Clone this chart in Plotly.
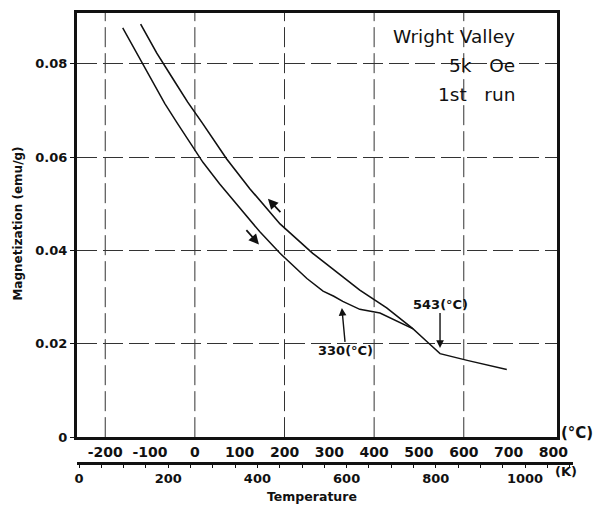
import plotly.graph_objects as go

# ---- data ----
T_HEAT = [-161, -128, -94, -67, -40, 18, 55, 94, 145, 190, 250, 286, 310, 330, 368, 413, 450, 487, 520, 547, 610, 674, 696]
M_HEAT = [0.0877, 0.0819, 0.0760, 0.0715, 0.0674, 0.0589, 0.0543, 0.0498, 0.0440, 0.0394, 0.0340, 0.0313, 0.0302,
          0.0291, 0.0274, 0.0266, 0.0249, 0.0232, 0.0203, 0.0179, 0.0164, 0.0149, 0.0145]

T_COOL = [-121, -85, -49, -16, 16, 71, 123, 190, 263, 339, 368, 428, 487]
M_COOL = [0.0885, 0.0823, 0.0768, 0.0718, 0.0674, 0.0596, 0.0532, 0.0457, 0.0394, 0.0338, 0.0315, 0.0277, 0.0232]

C_TICKS = [-200, -100, 0, 100, 200, 300, 400, 500, 600, 700, 800]
C_TICKTEXT = ["-200", "-100", "0", "100", "200", "300", "400", "500", "600", "700", "800"]
C_GRID = [-200, 0, 200, 400, 600]
K_TICKS = [0, 200, 400, 600, 800, 1000]
M_TICKS = [0, 0.02, 0.04, 0.06, 0.08]
M_TICKTEXT = ["0", "0.02", "0.04", "0.06", "0.08"]

FONT = "DejaVu Sans"
INK = "#111111"

fig = go.Figure()
fig.add_trace(go.Scatter(x=T_HEAT, y=M_HEAT, mode="lines",
                         line=dict(color=INK, width=1.5), hoverinfo="skip", showlegend=False))
fig.add_trace(go.Scatter(x=T_COOL, y=M_COOL, mode="lines",
                         line=dict(color=INK, width=1.6), hoverinfo="skip", showlegend=False))
# dummy trace to host the Kelvin axis
fig.add_trace(go.Scatter(x=[None], y=[None], xaxis="x2", yaxis="y2", showlegend=False, hoverinfo="skip"))

for c in C_GRID:
    fig.add_shape(type="line", xref="x", yref="y domain", x0=c, x1=c, y0=0, y1=1,
                  line=dict(color="#333333", width=1, dash="20px,6px"), layer="below")

ann = []
# direction arrows
ann.append(dict(x=163, y=0.0511, ax=194, ay=0.0479, xref="x", yref="y", axref="x", ayref="y",
                text="", showarrow=True, arrowhead=2, arrowsize=1.2, arrowwidth=1.7, arrowcolor=INK))
ann.append(dict(x=143, y=0.0413, ax=112, ay=0.0447, xref="x", yref="y", axref="x", ayref="y",
                text="", showarrow=True, arrowhead=2, arrowsize=1.2, arrowwidth=1.7, arrowcolor=INK))
# transition markers
ann.append(dict(x=328, y=0.0277, ax=4, ay=43, xref="x", yref="y", text="330(°C)",
                showarrow=True, arrowhead=2, arrowsize=1.1, arrowwidth=1.4, arrowcolor=INK,
                font=dict(family=FONT, size=13, color=INK, weight="bold")))
ann.append(dict(x=547, y=0.0191, ax=0, ay=-44, xref="x", yref="y", text="543(°C)",
                showarrow=True, arrowhead=2, arrowsize=1.1, arrowwidth=1.4, arrowcolor=INK,
                font=dict(family=FONT, size=13, color=INK, weight="bold")))

# plot area in paper coordinates: px x 77..573, y 10..462
def px(x):
    return (x - 77) / 496.0

def py(y):
    return (462 - y) / 452.0

for txt, yy in [("Wright Valley", 34), ("5k\u00a0\u00a0\u00a0Oe", 63), ("1st\u00a0\u00a0\u00a0run", 92)]:
    ann.append(dict(x=px(517), y=py(yy), xref="paper", yref="paper", xanchor="right", yanchor="middle",
                    text=txt, showarrow=False, font=dict(family=FONT, size=18.5, color=INK)))

ann.append(dict(x=px(577), y=py(433), xref="paper", yref="paper", xanchor="center", yanchor="middle",
                text="(°C)", showarrow=False, font=dict(family=FONT, size=15, color=INK, weight="bold")))
ann.append(dict(x=px(566), y=py(472), xref="paper", yref="paper", xanchor="center", yanchor="middle",
                text="(K)", showarrow=False, font=dict(family=FONT, size=13, color=INK, weight="bold")))
ann.append(dict(x=px(312), y=py(497), xref="paper", yref="paper", xanchor="center", yanchor="middle",
                text="Temperature", showarrow=False, font=dict(family=FONT, size=12.5, color=INK, weight="bold")))
ann.append(dict(x=px(18), y=py(222), xref="paper", yref="paper", xanchor="center", yanchor="middle",
                text="Magnetization (emu/g)", textangle=-90, showarrow=False,
                font=dict(family=FONT, size=12, color=INK, weight="bold")))

fig.update_layout(
    width=595, height=509,
    margin=dict(l=77, r=22, t=10, b=47, pad=0),
    paper_bgcolor="white", plot_bgcolor="white",
    font=dict(family=FONT, color=INK),
    annotations=ann,
    xaxis=dict(domain=[0, 480 / 496], range=[-263, 808], anchor="y",
               tickvals=C_TICKS, ticktext=C_TICKTEXT, ticks="", showgrid=False, zeroline=False,
               showline=True, linewidth=3, linecolor=INK, mirror=True,
               tickfont=dict(family=FONT, size=14, color=INK, weight="bold")),
    yaxis=dict(domain=[25 / 452, 1], range=[0, 0.0909], anchor="x",
               tickvals=M_TICKS, ticktext=M_TICKTEXT, ticks="outside", ticklen=4, tickwidth=1, tickcolor=INK,
               showgrid=True, gridcolor="#333333", gridwidth=1, griddash="20px,6px", zeroline=False,
               showline=True, linewidth=3, linecolor=INK, mirror=True,
               tickfont=dict(family=FONT, size=13, color=INK, weight="bold")),
    xaxis2=dict(domain=[0, 1], range=[-4.5, 1107.6], anchor="y2", side="bottom",
                tickvals=K_TICKS, ticks="outside", ticklen=3, tickwidth=1, tickcolor=INK,
                minor=dict(dtick=50, tick0=0, ticks="outside", ticklen=3, tickwidth=1, tickcolor=INK),
                showgrid=False, zeroline=False, showline=True, linewidth=2.5, linecolor=INK,
                tickfont=dict(family=FONT, size=13, color=INK, weight="bold")),
    yaxis2=dict(domain=[0, 0.02], anchor="x2", visible=False, range=[0, 1]),
)

fig.write_html("out.html")
